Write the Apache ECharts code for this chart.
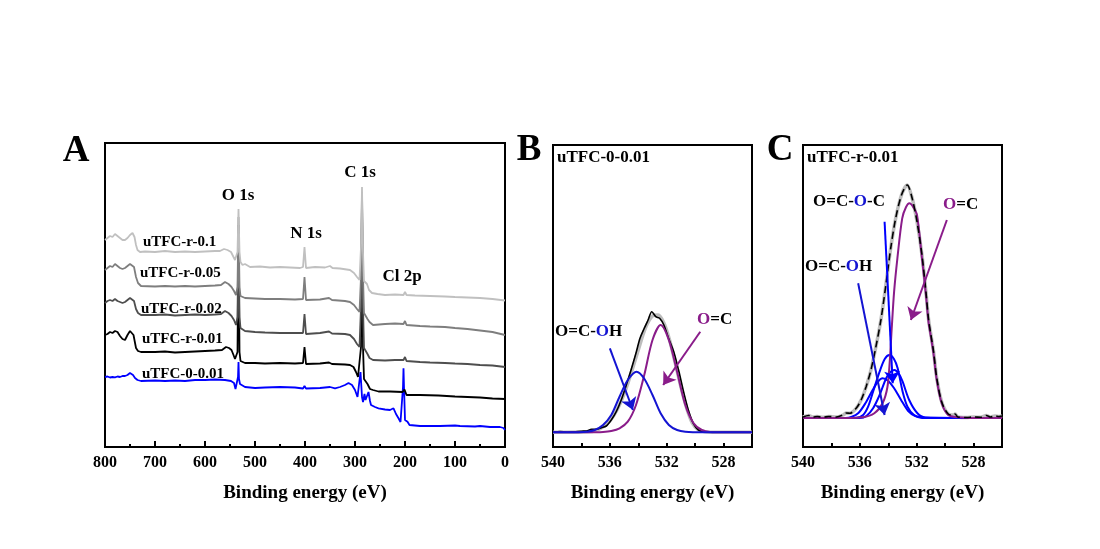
<!DOCTYPE html>
<html>
<head>
<meta charset="utf-8">
<script src="https://cdn.jsdelivr.net/npm/echarts@6/dist/echarts.min.js"></script>
<style>
html, body { margin: 0; padding: 0; background: #fff; }
#main { width: 1100px; height: 549px; }
</style>
</head>
<body>
<div id="main"></div>
<script>
// ---- panel A : survey spectra, [binding energy (eV), intensity (a.u.)]
var surveyR010 = [[800,207],[795,209],[790,211],[785,210],[780,213],[775,211],[770,209],[765,207],[760,207],[755,209],[750,212],[745,214],[741,210],[738,202],[735,197],[730,195],[720,195.5],[700,195],[680,196],[660,195],[640,195.5],[620,195],[600,195.5],[580,196],[570,196],[562,198],[555,197],[548,195],[543,190],[540,187],[537,185],[535,195],[533,238],[531,195],[529,185],[525,182],[520,183],[510,180],[490,180.5],[470,179.5],[450,180],[430,179.5],[410,179],[404,180],[401,200],[398,179],[380,180],[360,179.5],[350,181],[345,179],[330,178.5],[310,177],[302,174],[296,170],[291,167],[288,200],[286,260],[284,195],[282,166],[279,165],[276,163],[272,157],[266,154],[255,153],[240,152],[220,152.5],[203,152],[200,155],[197,152],[180,151.5],[150,151],[120,150.5],[100,150],[75,149.5],[50,149],[25,148],[0,146.5]];
var surveyR005 = [[800,177],[795,179],[790,181],[785,180],[780,183],[775,181],[770,179],[765,178],[760,179],[755,181],[750,183],[747,184],[742,180],[738,170],[734,164],[728,161],[700,160.5],[680,161],[660,160.5],[640,161],[620,160.5],[600,161],[580,161.5],[568,162],[560,165],[553,163],[547,160],[542,156],[538,152],[535,160],[533,230],[531,160],[529,151],[525,151],[520,149],[500,148.5],[480,148],[450,148],[420,147.5],[404,148],[401,170],[398,147],[370,147.5],[352,149],[346,147],[320,146],[310,145],[302,142],[296,138],[291,135],[288,170],[286,255],[284,170],[282,134],[279,132],[275,128],[271,125],[264,122],[240,123],[220,123.5],[203,123],[200,126],[197,122],[170,121],[150,120.5],[120,120],[100,119],[75,118],[50,116.5],[25,115],[0,112]];
var surveyR002 = [[800,144],[795,146],[790,147],[785,146],[780,148],[775,146],[770,145],[765,144],[760,145],[755,147],[750,149],[747,150],[742,146],[738,138],[734,134],[728,132],[700,132],[680,132.5],[660,131.5],[640,132],[620,132.5],[600,132],[580,132.5],[568,133],[560,136],[553,134],[547,131],[542,127],[538,122],[535,130],[533,222],[531,130],[529,119],[525,118],[520,116],[500,115],[480,114.5],[450,114],[420,114],[404,114],[401,133],[398,113],[370,114],[352,115.5],[346,113.5],[320,113],[310,112],[302,108],[296,103],[291,100],[288,140],[286,250],[284,140],[282,99],[279,97],[275,93],[271,89],[264,87],[240,86.5],[220,87],[203,87],[200,90],[197,86],[170,85],[150,84.5],[120,84],[100,83.5],[75,83],[50,82],[25,81.5],[0,80]];
var surveyR001 = [[800,112],[795,113],[790,115],[785,114],[780,116],[775,115],[770,111],[765,108],[760,107],[755,112],[750,116],[747,117],[743,112],[738,99],[734,96],[728,95],[700,95],[680,95.5],[660,94.5],[640,95],[620,95.5],[600,96],[580,96.5],[566,97],[558,100],[552,99],[547,97],[543,92],[540,88],[537,86],[535,95],[533,215],[531,95],[529,86],[526,85],[520,84],[500,84],[480,83.5],[450,84],[420,83.5],[404,84],[401,100],[398,83],[370,83.5],[352,84.5],[346,83],[320,82.5],[310,82],[303,80],[298,75],[294,70],[291,68],[288,100],[286,245],[284,100],[282,68],[279,66],[275,63],[270,58],[264,57],[253,55.5],[230,55.5],[205,55],[201,57.5],[197,52],[170,52],[133,51.5],[100,50.5],[75,50],[50,49.5],[25,48.5],[0,48]];
var survey0001 = [[800,70],[795,70.5],[790,69.5],[785,70],[780,69.7],[775,70.5],[770,70],[765,71],[760,71],[755,72],[750,74],[747,74.5],[744,72],[740,69],[735,67],[728,66],[700,66.5],[680,66],[660,66.5],[640,66],[620,67],[600,67],[580,67.5],[560,67],[548,66],[542,64],[539,58],[536,57],[534,70],[533,85],[532,68],[530,63],[527,61],[520,60],[500,59],[480,59.5],[450,60],[420,59.5],[404,58.5],[401,61],[398,58.5],[370,59],[350,60],[340,58.7],[330,60],[320,62],[313,64],[306,62],[300,57],[295,50],[292,48],[289,75],[286,50],[284,45],[281,53],[279,47],[276,46],[273,55],[270,46],[268,42],[260,40],[253,38.7],[240,37.5],[230,37],[223,38.7],[218,33],[213,28.7],[209,25],[206,23.7],[204,60],[203,78.7],[202,60],[200,27],[197,25],[195,25.3],[191,22],[188,21],[170,21],[154,21],[150,22],[130,21],[100,21.5],[90,21],[60,20.5],[50,21],[30,20],[10,20],[3,19],[0,17]];

// ---- panel B : O 1s of uTFC-0-0.01
var bRaw = [[540,15],[539.5,15.5],[539,14.8],[538.5,15.2],[538,15.8],[537.64,16],[537.29,17.7],[536.94,17.7],[536.59,19.3],[536.25,21],[535.9,27],[535.55,35.3],[535.2,47],[534.86,61.3],[534.51,77],[534.16,94],[533.88,108.7],[533.58,118.7],[533.31,127],[533.05,135.3],[532.77,130.3],[532.5,128.7],[532.2,122],[531.85,108],[531.5,95],[531.15,76],[530.81,55],[530.46,36],[530.11,23],[529.77,17],[529.3,15],[528.5,14.7],[527,15],[526,14.7]];
var bEnvelope = [[540,14.7],[537.5,15.3],[537,16.5],[536.5,20],[536,26],[535.5,37],[535,53],[534.5,74],[534,97],[533.5,119],[533,131],[532.6,132],[532.2,124],[531.8,107],[531.4,84],[531,60],[530.6,39],[530.2,24],[529.8,17.5],[529.3,15.3],[528.5,14.7],[526,14.7]];
var bCOOH = [[540,14.7],[539,14.7],[538.2,14.8],[537.64,15.3],[537.06,17],[536.48,22],[535.9,32],[535.32,50.3],[534.74,67],[534.12,75.3],[533.6,68.7],[533.0,52],[532.43,33.7],[531.85,22],[531.27,17],[530.69,15.3],[529.5,14.7],[528,14.7],[526,14.7]];
var bCO = [[540,14.7],[537,14.7],[536.48,14.9],[535.9,16],[535.32,18.7],[534.74,25.3],[534.16,42],[533.58,72],[533.0,107],[532.43,122],[531.85,107],[531.27,75.3],[530.69,42],[530.11,23.7],[529.53,17],[528.95,15],[528,14.7],[526,14.7]];

// ---- panel C : O 1s of uTFC-r-0.01
var cEnvelope = [[540,30],[539.6,31.5],[539.3,30],[539,30.5],[538.6,29.8],[538.2,30.5],[537.64,30],[537.18,32],[536.95,34],[536.71,33.7],[536.26,38.7],[535.91,47],[535.56,60.3],[535.22,77],[534.87,100.3],[534.52,127],[534.17,162],[533.83,198.7],[533.48,228.7],[533.07,252],[532.67,262],[532.32,248.7],[531.98,225.3],[531.63,192],[531.35,155],[531.17,128],[531.0,112],[530.82,96],[530.59,69],[530.24,45],[529.78,33],[529.4,32],[529.3,33],[529.1,30],[528.5,29.5],[528,30],[527.5,29.7],[527.1,31.5],[526.8,30],[526.5,31],[526.2,30.5],[526,31]];
var cCOOH = [[540,29],[537,29],[536.6,30],[536.1,34],[535.6,44],[535.1,57],[534.75,65],[534.4,68.7],[534.0,66],[533.6,59],[533.1,47],[532.6,36],[532.1,31],[531.6,29.5],[531,29],[526,29]];
var cCOC = [[540,29],[536.3,29],[535.77,32],[535.42,40.3],[535.07,55.3],[534.61,75.3],[534.25,88],[533.92,92],[533.6,88],[533.34,78.7],[532.99,55.3],[532.65,40.3],[532.19,32],[531.61,29],[526,29]];
var cCOC2 = [[540,29],[536,29],[535.54,31],[535.07,38.7],[534.61,52],[534.15,68.7],[533.85,75],[533.57,77],[533.25,73],[532.99,65.3],[532.53,47],[531.95,33.7],[531.4,29.5],[526,29]];
var cCO = [[540,29],[537,29],[535.79,29.7],[534.98,33.7],[534.4,43.7],[534.06,60],[533.9,85],[533.76,118],[533.59,155.3],[533.36,188.7],[533.02,228.7],[532.75,240],[532.51,243.7],[532.25,240],[531.98,232],[531.63,188.7],[531.35,152],[531.17,125],[531.0,110],[530.82,93.7],[530.59,67],[530.24,43.7],[529.78,32],[529.1,29.7],[528,29],[526,29]];

// arrows: [from, to] in (eV, intensity)
var arrowsB = [[[536.0,98.7],[534.38,37]], [[529.64,115.3],[532.25,62]]];
var arrowsC = [[[534.26,225.3],[533.69,63.7]], [[536.12,163.7],[534.26,32]], [[529.88,227],[532.41,127]]];

var SERIF = '"Liberation Serif", "Times New Roman", serif';
var BLUE = '#0000ff';
var BLUE2 = '#1414d2';
var PURPLE = '#8a1c8a';

function survey_x() {
	return {
		gridIndex: 0, type: 'value', min: 0, max: 800, interval: 100, inverse: true,
		axisLine: { show: true, onZero: false, lineStyle: { color: '#000', width: 2 } },
		axisTick: { show: true, inside: true, length: 6, lineStyle: { color: '#000', width: 2 } },
		minorTick: { show: true, splitNumber: 2, length: 3, lineStyle: { color: '#000', width: 2 } },
		splitLine: { show: false },
		axisLabel: { color: '#000', fontFamily: SERIF, fontWeight: 'bold', fontSize: 16, margin: 8 },
		name: 'Binding energy (eV)', nameLocation: 'middle', nameGap: 37,
		nameTextStyle: { color: '#000', fontFamily: SERIF, fontWeight: 'bold', fontSize: 19 }
	};
}
function o1s_x(idx) {
	return {
		gridIndex: idx, type: 'value', min: 526, max: 540, interval: 2, inverse: true,
		axisLine: { show: true, onZero: false, lineStyle: { color: '#000', width: 2 } },
		axisTick: { show: true, inside: true, length: 4, lineStyle: { color: '#000', width: 2 } },
		splitLine: { show: false },
		axisLabel: {
			color: '#000', fontFamily: SERIF, fontWeight: 'bold', fontSize: 16, margin: 8,
			formatter: function(v) { return v % 4 === 0 ? String(v) : ''; }
		},
		name: 'Binding energy (eV)', nameLocation: 'middle', nameGap: 37,
		nameTextStyle: { color: '#000', fontFamily: SERIF, fontWeight: 'bold', fontSize: 19 }
	};
}
function line(idx, data, color, width, smooth) {
	return {
		type: 'line', xAxisIndex: idx, yAxisIndex: idx, data: data,
		symbol: 'none', showSymbol: false, silent: true,
		smooth: smooth ? 0.3 : false,
		lineStyle: { color: color, width: width }
	};
}
function arrows(list, colors) {
	return {
		silent: true, animation: false,
		label: { show: false },
		emphasis: { disabled: true },
		data: list.map(function(a, i) {
			return [
				{ coord: a[0], symbol: 'none', lineStyle: { color: colors[i], width: 2, type: 'solid' } },
				{ coord: a[1], symbol: 'arrow', symbolSize: 12 }
			];
		})
	};
}
function txt(x, y, text, size, align, rich) {
	var style = {
		text: text, font: 'bold ' + size + 'px ' + SERIF, fill: '#000',
		align: align || 'left', verticalAlign: 'middle'
	};
	if (rich) style.rich = rich;
	return { type: 'text', x: x, y: y, silent: true, style: style };
}
function richSet(size) {
	var f = 'bold ' + size + 'px ' + SERIF;
	return {
		k: { font: f, fill: '#000', color: '#000' },
		b: { font: f, fill: BLUE2, color: BLUE2 },
		p: { font: f, fill: PURPLE, color: PURPLE }
	};
}

var gridBase = { show: true, borderColor: '#000', borderWidth: 2, backgroundColor: 'transparent' };

var option = {
	animation: false,
	backgroundColor: '#fff',
	grid: [
		Object.assign({ left: 105, top: 143, width: 400, height: 304 }, gridBase),
		Object.assign({ left: 553, top: 145, width: 199, height: 302 }, gridBase),
		Object.assign({ left: 803, top: 145, width: 199, height: 302 }, gridBase)
	],
	xAxis: [survey_x(), o1s_x(1), o1s_x(2)],
	yAxis: [
		{ gridIndex: 0, type: 'value', min: 0, max: 304, show: false },
		{ gridIndex: 1, type: 'value', min: 0, max: 302, show: false },
		{ gridIndex: 2, type: 'value', min: 0, max: 302, show: false }
	],
	series: [
		// A: darker first, lighter on top
		line(0, survey0001, BLUE, 1.8),
		line(0, surveyR001, '#000000', 1.8),
		line(0, surveyR002, '#4e4e4e', 1.8),
		line(0, surveyR005, '#7e7e7e', 1.8),
		line(0, surveyR010, '#c0c0c0', 1.8),
		// B
		line(1, bEnvelope, '#bdbdbd', 3.5, true),
		line(1, bRaw, '#000000', 1.6, true),
		Object.assign(line(1, bCO, PURPLE, 2, true), { markLine: arrows(arrowsB, [BLUE2, PURPLE]) }),
		line(1, bCOOH, BLUE2, 2, true),
		// C
		line(2, cEnvelope, '#bdbdbd', 3.5, true),
		line(2, cCOOH, BLUE, 2, true),
		line(2, cCOC2, BLUE, 2, true),
		line(2, cCOC, BLUE, 2, true),
		Object.assign(line(2, cCO, PURPLE, 2, true), { markLine: arrows(arrowsC, [BLUE, BLUE2, PURPLE]) }),
		(function() {
			var s = line(2, cEnvelope, '#000000', 1.6, true);
			s.lineStyle.type = [7, 4];
			return s;
		})()
	],
	graphic: [
		txt(76, 151, 'A', 37, 'center'),
		txt(529, 150, 'B', 37, 'center'),
		txt(780, 150, 'C', 37, 'center'),
		// panel A peak labels
		txt(238, 196, 'O 1s', 17, 'center'),
		txt(360, 173, 'C 1s', 17, 'center'),
		txt(306, 234, 'N 1s', 17, 'center'),
		txt(402, 277, 'Cl 2p', 17, 'center'),
		// panel A sample labels
		txt(143, 242, 'uTFC-r-0.1', 15),
		txt(140, 273, 'uTFC-r-0.05', 15),
		txt(141, 309, 'uTFC-r-0.02', 15),
		txt(142, 339, 'uTFC-r-0.01', 15),
		txt(142, 374, 'uTFC-0-0.01', 15),
		// panel B
		txt(557, 158, 'uTFC-0-0.01', 17),
		txt(555, 332, '{k|O=C-}{b|O}{k|H}', 17, 'left', richSet(17)),
		txt(697, 320, '{p|O}{k|=C}', 17, 'left', richSet(17)),
		// panel C
		txt(807, 158, 'uTFC-r-0.01', 17),
		txt(813, 202, '{k|O=C-}{b|O}{k|-C}', 17, 'left', richSet(17)),
		txt(805, 267, '{k|O=C-}{b|O}{k|H}', 17, 'left', richSet(17)),
		txt(943, 205, '{p|O}{k|=C}', 17, 'left', richSet(17))
	]
};

var chart = echarts.init(document.getElementById('main'), null, { renderer: 'canvas' });
chart.setOption(option);
</script>
</body>
</html>
